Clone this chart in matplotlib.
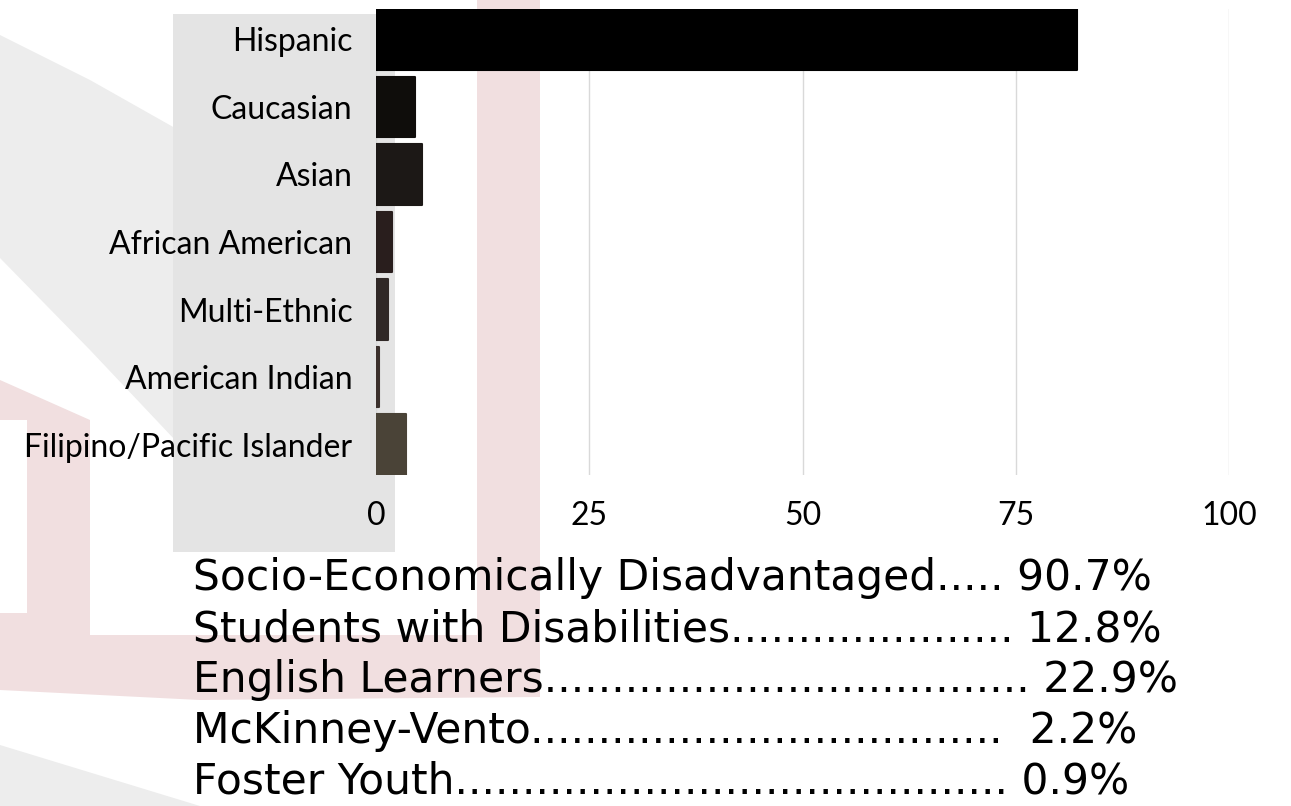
import matplotlib
matplotlib.use("Agg")
import matplotlib.pyplot as plt
from matplotlib.patches import Polygon

# ---------------- data ----------------
categories = ["Hispanic", "Caucasian", "Asian", "African American",
              "Multi-Ethnic", "American Indian", "Filipino/Pacific Islander"]
values = [82.2, 4.6, 5.4, 1.9, 1.4, 0.3, 3.5]
bar_colors = ["#000000", "#0f0d0b", "#1c1816", "#291e1d",
              "#302826", "#3b302c", "#4a4337"]
x_ticks = [0, 25, 50, 75, 100]

stat_labels = ["Socio-Economically Disadvantaged.....",
               "Students with Disabilities.....................",
               "English Learners....................................",
               "McKinney-Vento...................................",
               "Foster Youth........................................."]
stat_values = ["90.7%", "12.8%", "22.9%", " 2.2%", "0.9%"]

# ---------------- figure ----------------
W, H = 1291, 806
fig = plt.figure(figsize=(W / 100, H / 100), dpi=100)
fig.patch.set_facecolor("white")


def px(x, y):
    return (x / W, 1 - y / H)


def poly(pts, color, z=-10):
    p = Polygon([px(x, y) for x, y in pts], closed=True, transform=fig.transFigure,
                facecolor=color, edgecolor="none", zorder=z)
    fig.patches.append(p)


def rect(x0, y0, x1, y1, color, z=-10):
    poly([(x0, y0), (x1, y0), (x1, y1), (x0, y1)], color, z)


grey_band = "#ededed"
pink = "#f1dfe0"
# decorative background
poly([(0, 35), (90, 80), (175, 128), (300, 190), (300, 500),
      (175, 440), (90, 350), (0, 258)], grey_band, -12)
poly([(0, 380), (90, 420), (90, 635), (0, 635)], pink, -11)
rect(0, 420, 27, 613, "white", -10.5)
poly([(0, 635), (540, 635), (540, 697), (200, 700), (0, 690)], pink, -11)
rect(477, 0, 540, 697, pink, -11)
poly([(0, 745), (200, 806), (0, 806)], grey_band, -12)
# label panel
rect(173, 14, 395, 552, "#e4e4e4", -9)

# ---------------- axes ----------------
ax = fig.add_axes([376 / W, 1 - 475 / H, (1229 - 376) / W, (475 - 9) / H])
ax.patch.set_alpha(0)
ypos = list(range(len(categories)))
bars = ax.barh(ypos, values, height=0.9, color=bar_colors, zorder=3)
for b, c in zip(bars, bar_colors):
    b.set_edgecolor(c)
    b.set_linewidth(1.5)
    b.set_joinstyle("round")
ax.set_ylim(len(categories) - 0.55, -0.45)
ax.set_xlim(0, 100)
ax.set_xticks(x_ticks)
ax.set_yticks(ypos)
ax.set_yticklabels(categories)
ax.grid(axis="x", color="#d9d9d9", linewidth=1.0, zorder=0)
ax.set_axisbelow(True)
for s in ax.spines.values():
    s.set_visible(False)
ax.tick_params(axis="both", length=0, labelsize=18, colors="black")
ax.tick_params(axis="y", pad=17)
ax.tick_params(axis="x", pad=19)
for t in ax.get_yticklabels() + ax.get_xticklabels():
    t.set_fontfamily("Lato")

# ---------------- bottom stats ----------------
baselines = [590, 641, 692, 743, 794]
texts = []
for lab, val, yb in zip(stat_labels, stat_values, baselines):
    t = fig.text(193 / W, 1 - yb / H, lab + " " + val, fontsize=26,
                 family="DejaVu Sans", va="baseline", ha="left", color="black")
    texts.append(t)

# fit first line width to reference (193 -> 1150 px)
fig.canvas.draw()
r = fig.canvas.get_renderer()
w0 = texts[0].get_window_extent(r).width
scale = (1150 - 193) / w0
for t in texts:
    t.set_fontsize(26 * scale)
# fit y tick label size so "Filipino/Pacific Islander" is ~327 px wide
lbl = ax.get_yticklabels()[-1]
wl = lbl.get_window_extent(r).width
s2 = 327 / wl
for t in ax.get_yticklabels() + ax.get_xticklabels():
    t.set_fontsize(18 * s2)

fig.savefig("out.png", dpi=100, facecolor="white")
